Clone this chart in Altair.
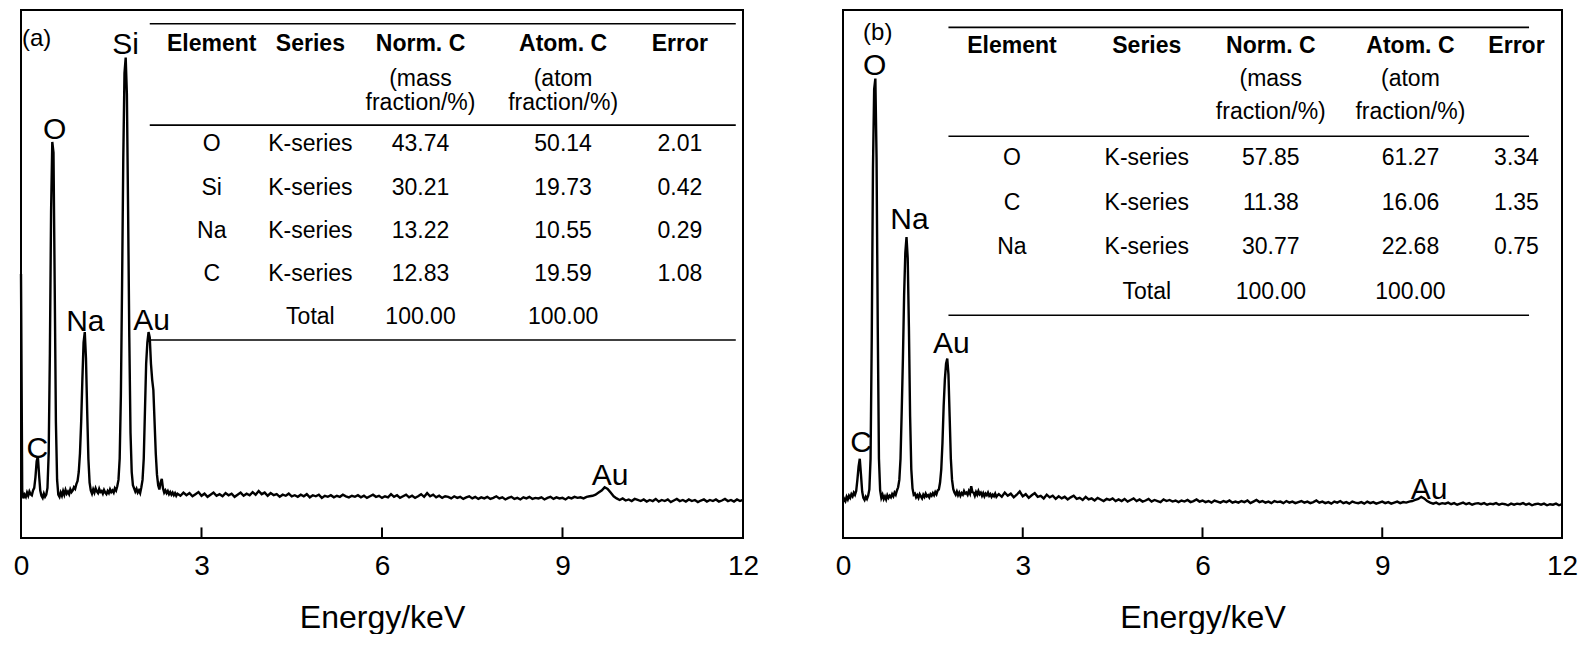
import altair as alt
import pandas as pd

FONT = "Liberation Sans"

# ---------------- spectrum data ----------------
# low-energy part sampled every 0.02 keV from 0, high part every 0.05 keV from 2.60
LOW_STEP = 0.02
HIGH_START = 2.60
HIGH_STEP = 0.05

A_LOW = [
    50, 9, 7.5, 8.2, 7.8, 8.6, 8.0, 8.8, 8.3, 8.1,
    9.0, 9.5, 11.5, 14.5, 15.5, 12.0, 9.0, 8.0, 7.6, 8.4,
    7.8, 8.2, 9.5, 16, 35, 62, 75, 73, 48, 22,
    11, 8.2, 7.8, 8.6, 8.0, 8.9, 8.2, 9.1, 8.4, 8.8,
    8.3, 9.2, 8.7, 9.0, 9.6, 9.3, 10.2, 10.8, 12.5, 16,
    22, 30, 37, 39, 34, 24, 15, 10.5, 9.0, 8.4,
    9.2, 8.6, 9.4, 8.8, 8.5, 9.3, 8.7, 8.9, 8.4, 9.1,
    8.6, 8.3, 8.9, 8.5, 9.2, 8.7, 9.0, 8.6, 9.4, 9.0,
    9.8, 11, 15, 27, 48, 72, 88, 91, 84, 62,
    38, 20, 12.5, 10, 9.4, 8.8, 9.3, 8.6, 9.0, 8.5,
    9.6, 11, 15, 24, 33, 37, 39, 38, 33, 30,
    28, 22, 16, 12, 10, 9.2, 10.5, 11.2, 9.4, 8.6,
    9.0, 8.5, 8.9, 8.3, 8.7, 8.2, 8.6, 8.1, 8.5, 8.0,
]
A_HIGH = [
    8.4, 8.0, 8.6, 8.1, 8.5, 7.9, 8.3, 8.7, 8.0, 8.4, 7.8, 8.2, 8.6, 8.0, 8.3, 7.9, 8.5, 8.1, 8.4, 7.8,
    8.2, 8.6, 8.0, 8.4, 8.1, 8.7, 8.2, 8.9, 8.3, 8.6, 8.0, 8.5, 8.1, 8.3, 7.8, 8.2, 8.0, 8.4, 7.9, 8.1,
    7.8, 8.2, 7.9, 8.3, 7.7, 8.1, 7.9, 8.2, 7.6, 8.0, 7.8, 8.1, 7.7, 8.0, 7.8, 8.2, 7.9, 7.7, 8.0, 7.8,
    8.1, 7.7, 8.0, 7.6, 7.9, 8.2, 7.8, 8.0, 7.6, 7.9, 7.7, 8.3, 7.8, 8.1, 7.6, 7.9, 8.2, 7.7, 8.0, 7.6,
    7.9, 8.3, 7.8, 8.5, 7.9, 8.2, 7.7, 8.0, 7.6, 7.9, 7.8, 7.5, 7.9, 7.6, 7.8, 7.4, 7.7, 7.9, 7.5, 7.8,
    7.4, 7.7, 7.5, 7.8, 7.4, 7.6, 7.9, 7.5, 7.7, 7.3, 7.6, 7.8, 7.4, 7.6, 7.3, 7.7, 7.5, 7.8, 7.4, 7.6,
    7.5, 7.7, 7.3, 7.6, 7.8, 7.4, 7.7, 7.5, 7.6, 7.3, 7.7, 7.5, 7.8, 7.6, 7.7, 7.5, 7.8, 7.9, 8.0, 8.2,
    8.6, 9.0, 9.6, 9.3, 8.6, 7.9, 7.5, 7.2, 7.5, 7.1, 7.3, 7.0, 7.4, 7.2, 7.0, 7.3, 6.9, 7.2, 7.0, 7.4,
    6.9, 7.2, 7.0, 7.3, 6.8, 7.1, 7.4, 7.0, 7.2, 6.9, 7.3, 7.0, 7.2, 6.8, 7.1, 7.3, 6.9, 7.2, 7.0, 7.3,
    6.9, 7.1, 7.4, 7.0, 7.2, 6.9, 7.3, 7.0, 7.2,
]

B_LOW = [
    6.8, 7.4, 7.0, 7.8, 7.3, 8.0, 7.6, 8.3, 7.9, 8.6,
    8.2, 8.9, 11, 13.5, 15, 12, 8.8, 7.6, 7.2, 7.8,
    7.4, 8.0, 9.2, 15, 38, 70, 85, 87, 72, 40,
    15, 9.0, 7.6, 8.2, 7.4, 7.9, 7.3, 8.1, 7.6, 8.0,
    7.7, 8.3, 7.9, 8.6, 8.2, 9.0, 9.6, 11, 15, 24,
    34, 46, 54, 57, 53, 40, 23, 13, 9.4, 8.2,
    8.4, 7.7, 8.1, 7.6, 8.3, 7.9, 7.5, 8.2, 7.8, 8.4,
    7.9, 8.1, 7.7, 8.3, 8.0, 8.5, 8.1, 8.7, 8.3, 9.0,
    9.2, 10.5, 13, 18, 25, 30, 33, 34, 31, 23,
    15, 11, 9.3, 8.6, 8.2, 8.8, 8.1, 8.6, 8.0, 8.5,
    8.2, 8.9, 8.4, 8.6, 8.2, 8.9, 8.4, 9.8, 8.7, 8.6,
    8.0, 8.7, 8.2, 8.9, 8.3, 8.6, 8.0, 8.5, 7.9, 8.4,
    8.1, 8.6, 8.0, 8.3, 7.8, 8.2, 7.9, 8.4, 7.8, 8.1,
]
B_HIGH = [
    8.3, 7.8, 8.6, 8.0, 8.4, 7.7, 8.2, 8.8, 7.9, 8.3, 7.6, 8.1, 8.5, 7.8, 8.0, 7.5, 8.2, 7.7, 8.0, 7.4,
    7.9, 7.5, 7.8, 7.3, 7.7, 8.0, 7.4, 7.6, 7.2, 7.8, 7.3, 7.5, 7.1, 7.6, 7.3, 7.0, 7.4, 7.2, 7.5, 7.0,
    7.3, 7.0, 7.4, 6.9, 7.2, 7.5, 7.0, 7.3, 6.9, 7.1, 7.4, 6.9, 7.2, 7.0, 6.8, 7.3, 7.0, 7.2, 6.9, 7.1,
    6.8, 7.1, 6.9, 7.2, 6.8, 7.0, 7.3, 6.9, 7.1, 6.8, 7.0, 6.7, 7.1, 6.9, 6.7, 7.0, 6.8, 7.1, 6.7, 6.9,
    6.7, 7.0, 6.8, 7.1, 6.6, 6.9, 7.2, 6.8, 7.0, 6.7, 6.9, 6.6, 7.0, 6.8, 6.9, 6.6, 7.0, 6.7, 6.9, 6.6,
    6.8, 7.0, 6.7, 6.9, 6.6, 6.8, 7.1, 6.7, 6.9, 6.6, 6.8, 6.5, 6.9, 6.7, 7.0, 6.6, 6.8, 6.5, 6.9, 6.7,
    6.6, 6.8, 6.5, 6.9, 6.6, 6.8, 6.5, 6.7, 6.9, 6.6, 6.8, 6.5, 6.7, 6.9, 6.6, 6.8, 6.7, 6.9, 7.0, 7.2,
    7.4, 7.8, 7.5, 7.0, 6.7, 6.5, 6.7, 6.4, 6.6, 6.5, 6.7, 6.4, 6.6, 6.3, 6.5, 6.7, 6.4, 6.6, 6.3, 6.5,
    6.6, 6.4, 6.6, 6.3, 6.5, 6.4, 6.6, 6.3, 6.5, 6.4, 6.2, 6.5, 6.3, 6.5, 6.4, 6.6, 6.3, 6.5, 6.2, 6.4,
    6.5, 6.3, 6.5, 6.2, 6.4, 6.3, 6.5, 6.2, 6.4,
]

X_LABELS = [0, 3, 6, 9, 12]
INNER_TICKS = [3, 6, 9]

A_PEAK_TEXT = ["(a)", "Si", "O", "Na", "Au", "C", "Au"]
B_PEAK_TEXT = ["(b)", "O", "Na", "Au", "C", "Au"]

HEADER = ["Element", "Series", "Norm. C", "Atom. C", "Error"]
SUB1 = ["", "", "(mass", "(atom", ""]
SUB2 = ["", "", "fraction/%)", "fraction/%)", ""]
TOTAL_ROW = ["", "Total", "100.00", "100.00", ""]

A_ELEM = ["O", "Si", "Na", "C"]
A_NORM = ["43.74", "30.21", "13.22", "12.83"]
A_ATOM = ["50.14", "19.73", "10.55", "19.59"]
A_ERR = ["2.01", "0.42", "0.29", "1.08"]

B_ELEM = ["O", "C", "Na"]
B_NORM = ["57.85", "11.38", "30.77"]
B_ATOM = ["61.27", "16.06", "22.68"]
B_ERR = ["3.34", "1.35", "0.75"]

# ---------------- layout (annotation anchors in data units) ----------------
A_PEAK_POS = [(0.26, 94.6), (1.74, 93.4), (0.56, 77.3), (1.07, 40.9), (2.17, 41.1), (0.27, 16.9), (9.79, 11.7)]
B_PEAK_POS = [(0.58, 95.6), (0.53, 89.4), (1.11, 60.2), (1.81, 36.7), (0.30, 18.0), (9.78, 9.1)]

A_COLS = [3.17, 4.81, 6.64, 9.01, 10.95]
A_HEAD_Y = [93.6, 87.0, 82.4]
A_BODY_Y = [74.6, 66.3, 58.1, 50.0, 41.9]
A_RULE_Y = [97.4, 78.2, 37.5]
A_RULE_X = (2.14, 11.88)

B_COLS = [2.82, 5.07, 7.14, 9.47, 11.24]
B_HEAD_Y = [93.2, 86.9, 80.6]
B_BODY_Y = [72.0, 63.5, 55.2, 46.5]
B_RULE_Y = [96.7, 76.1, 42.2]
B_RULE_X = (1.76, 11.45)

XS = alt.Scale(domain=[0, 12], nice=False, zero=False)
YS = alt.Scale(domain=[0, 100], nice=False, zero=False)
XAX = alt.Axis(values=X_LABELS, title="Energy/keV", ticks=False, domain=False, grid=False,
               labelFontSize=28, labelPadding=14, labelFlush=False, labelOverlap=False,
               labelColor="black", labelFont=FONT, format="d",
               titleFontSize=32, titlePadding=22, titleColor="black", titleFont=FONT,
               titleFontWeight="normal")


def X(field):
    return alt.X(field, type="quantitative", scale=XS, axis=XAX)


def Y(field):
    return alt.Y(field, type="quantitative", scale=YS, axis=None)


def spectrum_df(low, high):
    e = [round(i * LOW_STEP, 2) for i in range(len(low))]
    e += [round(HIGH_START + i * HIGH_STEP, 2) for i in range(len(high))]
    return pd.DataFrame({"E": e, "I": list(low) + list(high)})


def panel(low, high, peak_text, peak_pos, cols, head_y, body_y, rule_y, rule_x,
          elems, norms, atoms, errs, width):
    spec = alt.Chart(spectrum_df(low, high)).mark_line(
        color="black", strokeWidth=2.4).encode(x=X("E"), y=Y("I"))

    tdf = pd.DataFrame({"x": INNER_TICKS, "y0": [0] * len(INNER_TICKS), "y1": [2] * len(INNER_TICKS)})
    ticks = alt.Chart(tdf).mark_rule(color="black", strokeWidth=2).encode(
        x=X("x"), y=Y("y0"), y2="y1:Q")

    pdf = pd.DataFrame({"t": peak_text, "x": [p[0] for p in peak_pos], "y": [p[1] for p in peak_pos],
                        "s": [24] + [30] * (len(peak_text) - 1)})
    peaks = alt.Chart(pdf).mark_text(color="black", align="center", baseline="middle").encode(
        x=X("x"), y=Y("y"), text="t:N",
        size=alt.Size("s:Q", scale=None, legend=None))

    hdf = pd.DataFrame({"t": HEADER, "x": cols, "y": [head_y[0]] * 5})
    head = alt.Chart(hdf).mark_text(color="black", align="center", baseline="middle",
                                    fontSize=23, fontWeight="bold").encode(
        x=X("x"), y=Y("y"), text="t:N")

    cells = []
    for row, yy in ((SUB1, head_y[1]), (SUB2, head_y[2])):
        for c, txt in enumerate(row):
            if txt:
                cells.append((txt, cols[c], yy))
    for r in range(len(elems)):
        row = [elems[r], "K-series", norms[r], atoms[r], errs[r]]
        for c, txt in enumerate(row):
            cells.append((txt, cols[c], body_y[r]))
    for c, txt in enumerate(TOTAL_ROW):
        if txt:
            cells.append((txt, cols[c], body_y[len(elems)]))
    bdf = pd.DataFrame(cells, columns=["t", "x", "y"])
    body = alt.Chart(bdf).mark_text(color="black", align="center", baseline="middle",
                                    fontSize=23).encode(x=X("x"), y=Y("y"), text="t:N")

    rdf = pd.DataFrame({"x": [rule_x[0]] * 3, "x2": [rule_x[1]] * 3, "y": rule_y})
    rules = alt.Chart(rdf).mark_rule(color="black", strokeWidth=1.6).encode(
        x=X("x"), x2="x2:Q", y=Y("y"))

    return alt.layer(spec, ticks, rules, head, body, peaks).properties(width=width, height=528)


pa = panel(A_LOW, A_HIGH, A_PEAK_TEXT, A_PEAK_POS, A_COLS, A_HEAD_Y, A_BODY_Y, A_RULE_Y, A_RULE_X,
           A_ELEM, A_NORM, A_ATOM, A_ERR, 722)
pb = panel(B_LOW, B_HIGH, B_PEAK_TEXT, B_PEAK_POS, B_COLS, B_HEAD_Y, B_BODY_Y, B_RULE_Y, B_RULE_X,
           B_ELEM, B_NORM, B_ATOM, B_ERR, 719)

chart = alt.hconcat(pa, pb, spacing=100, bounds="flush").properties(
    padding={"left": 4, "top": 1, "right": 0, "bottom": 0},
    background="white",
).configure(font=FONT).configure_view(stroke="black", strokeWidth=2)

chart.save("out.html", embed_options={"renderer": "svg", "actions": False})
